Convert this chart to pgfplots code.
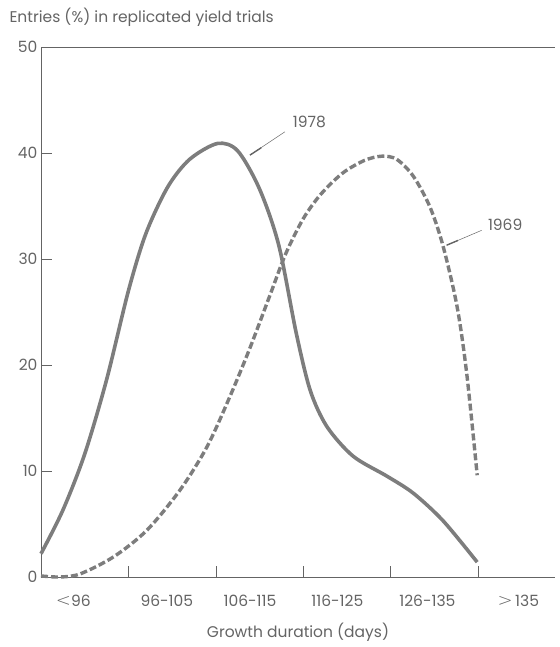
\documentclass[border=0pt]{standalone}
\usepackage{pgfplots}
\pgfplotsset{compat=1.18}
\usepackage{fontspec}
\setmainfont{Poppins}
\newfontfamily\symfont{DejaVu Sans ExtraLight}
\definecolor{ink}{RGB}{100,100,100}
\definecolor{curve}{RGB}{125,125,125}
\newcommand{\bigsym}[1]{{\symfont\fontsize{18}{17}\selectfont #1}}
\begin{document}
\begin{tikzpicture}
\begin{axis}[
  scale only axis, width=514pt, height=530pt,
  xmin=0, xmax=5.88, ymin=0, ymax=50,
  axis x line=box, axis y line=left,
  axis line style={-, draw=ink, line width=0.6pt},
  xtick pos=left, ytick pos=left, tick align=inside,
  major tick length=11pt,
  tick style={draw=ink, line width=0.6pt},
  xtick={1,2,3,4,5}, xticklabels={},
  extra x ticks={0.37,1.44,2.39,3.39,4.42,5.46},
  extra x tick labels={\bigsym{<}96, 96-105, 106-115, 116-125, 126-135, \bigsym{>}\,135},
  extra x tick style={major tick length=0pt},
  ytick={0,10,20,30,40,50},
  /pgf/number format/assume math mode=true,
  ticklabel style={font=\fontsize{15.5}{17}\selectfont, text=ink},
  xticklabel style={anchor=base, yshift=-29pt},
  clip=false,
]
\addplot[curve, line width=3.6pt, smooth] coordinates {
 (0,2.2) (0.25,6.3) (0.5,11.6) (0.75,18.6) (1.0,27.0) (1.2,32.4)
 (1.45,36.8) (1.7,39.4) (2.02,40.9) (2.25,40.2) (2.5,36.6) (2.72,31.3)
 (2.92,23.0) (3.08,17.6) (3.27,14.2) (3.57,11.4) (3.96,9.5) (4.26,7.9)
 (4.60,5.3) (4.99,1.4)};
\addplot[curve, line width=3.4pt, smooth, dash pattern=on 7pt off 3pt] coordinates {
 (0,0.1) (0.22,0) (0.45,0.3) (0.83,1.9) (1.21,4.4) (1.59,8.2) (1.90,12.3)
 (2.16,17.0) (2.39,21.6) (2.62,26.6) (2.8,30.5) (3.0,33.8) (3.2,36.1)
 (3.45,38.1) (3.7,39.3) (3.9,39.7) (4.07,39.4) (4.26,37.8) (4.45,34.9)
 (4.60,31.2) (4.76,25.5) (4.87,19.2) (4.99,9.6)};
% annotations
\draw[ink, line width=0.5pt] (axis cs:2.39,39.8) -- (axis cs:2.79,42.0);
\draw[ink, line width=1.4pt] (axis cs:2.39,39.8) -- (axis cs:2.52,40.5);
\node[text=ink, font=\fontsize{15.5}{17}\selectfont] at (axis cs:3.07,42.9) {1978};
\draw[ink, line width=0.5pt] (axis cs:4.64,31.3) -- (axis cs:5.04,32.7);
\draw[ink, line width=1.4pt] (axis cs:4.64,31.3) -- (axis cs:4.77,31.75);
\node[text=ink, font=\fontsize{15.5}{17}\selectfont] at (axis cs:5.31,33.2) {1969};
\node[anchor=west, text=ink, font=\fontsize{15.5}{17}\selectfont]
  at ([shift={(-35pt,30pt)}]rel axis cs:0,1) {Entries (\%) in replicated yield trials};
\node[text=ink, font=\fontsize{15.5}{17}\selectfont]
  at ([shift={(0pt,-55pt)}]rel axis cs:0.5,0) {Growth duration (days)};
\end{axis}
\pgfresetboundingbox
\path ([shift={(-41pt,-70pt)}]current axis.south west) rectangle ++(559pt,647pt);
\end{tikzpicture}
\end{document}
